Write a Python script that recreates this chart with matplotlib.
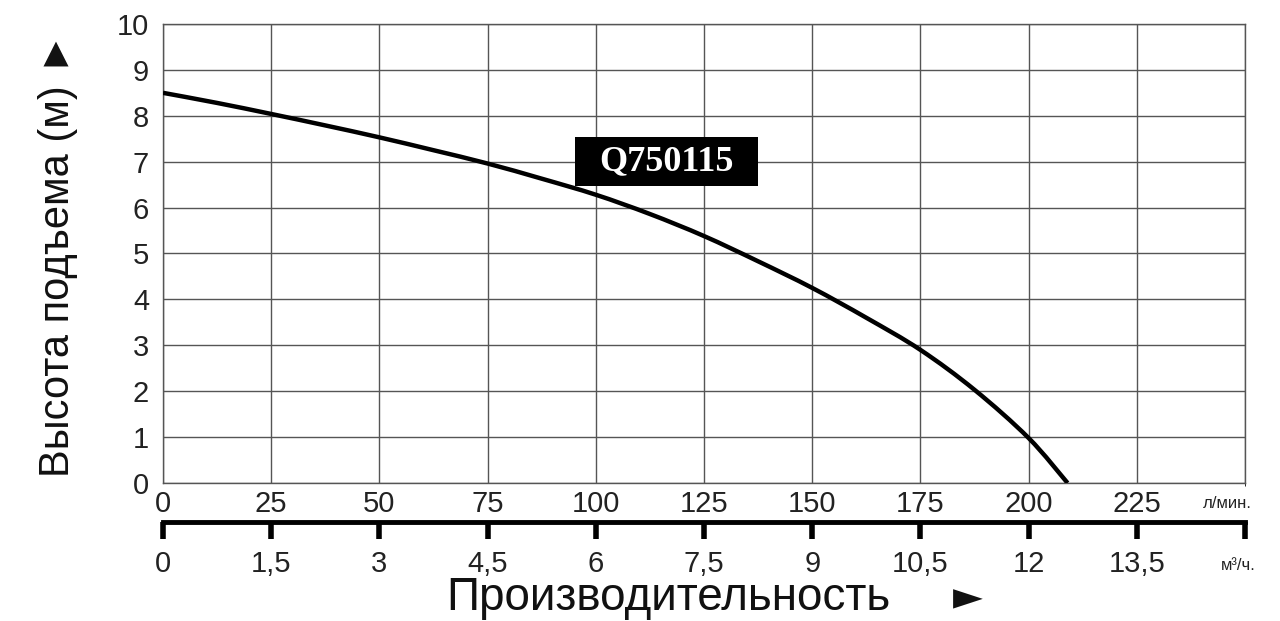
import numpy as np
import matplotlib.pyplot as plt
from matplotlib.path import Path
from matplotlib.patches import PathPatch, Rectangle

# flow, l/min -> head, m
flow_lpm = [0, 12.5, 25, 37.5, 50, 62.5, 75, 87.5, 100, 112.5, 125,
            137.5, 150, 162.5, 175, 187.5, 200, 209]
head_m = [8.5, 8.28, 8.04, 7.79, 7.53, 7.25, 6.96, 6.63, 6.28, 5.86, 5.38,
          4.83, 4.25, 3.6, 2.9, 2.03, 0.98, 0.0]

lpm_ticks = [0, 25, 50, 75, 100, 125, 150, 175, 200, 225]
m3h_ticks = [0, 1.5, 3, 4.5, 6, 7.5, 9, 10.5, 12, 13.5, 15]
m3h_labels = ['0', '1,5', '3', '4,5', '6', '7,5', '9', '10,5', '12', '13,5', '']
head_ticks = list(range(0, 11))
model = 'Q750115'

plt.rcParams['font.family'] = ['Liberation Sans', 'DejaVu Sans']

fig = plt.figure(figsize=(12.8, 6.21), dpi=100)
ax = fig.add_axes([0.1273, 0.2222, 0.8454, 0.7392])


def smooth_path(xs, ys):
    # catmull-rom through the read points, drawn as bezier segments
    p = np.column_stack([xs, ys]).astype(float)
    ext = np.vstack([p[0], p, p[-1]])
    verts = [p[0]]
    codes = [Path.MOVETO]
    for i in range(len(p) - 1):
        p0, p1, p2, p3 = ext[i], ext[i + 1], ext[i + 2], ext[i + 3]
        verts += [p1 + (p2 - p0) / 6, p2 - (p3 - p1) / 6, p2]
        codes += [Path.CURVE4] * 3
    return Path(verts, codes)


ax.add_patch(PathPatch(smooth_path(flow_lpm, head_m), fill=False, edgecolor='black',
                       lw=3.2, capstyle='butt', zorder=3))

ax.set_xlim(0, 250)
ax.set_ylim(0, 10)
ax.set_xticks(lpm_ticks)
ax.set_yticks(head_ticks)
ax.set_xticks([250], minor=True)
ax.grid(True, which='both', color='#555555', lw=1.0)
ax.tick_params(axis='both', length=0, labelsize=21, colors='#222222')
ax.tick_params(axis='x', pad=5)
ax.tick_params(axis='y', pad=10)
for sp in ax.spines.values():
    sp.set_color('#555555')
    sp.set_linewidth(1.0)

# second scale in m3/h below the chart
sec = ax.secondary_xaxis(-0.085, functions=(lambda q: q * 0.06, lambda v: v / 0.06))
sec.set_xticks(m3h_ticks)
sec.set_xticklabels(m3h_labels)
sec.spines['bottom'].set_linewidth(3.5)
sec.spines['bottom'].set_color('black')
sec.tick_params(axis='x', direction='out', length=12, width=4, color='black',
                labelsize=21, pad=24, labelcolor='#222222')
for lab in sec.get_xticklabels():
    lab.set_verticalalignment('baseline')

ax.text(0.984, -0.045, 'л/мин.', transform=ax.transAxes, ha='center', va='center',
        fontsize=12, color='#222222')
ax.text(0.994, -0.18, 'м³/ч.', transform=ax.transAxes, ha='center', va='center',
        fontsize=12, color='#222222')

ax.add_patch(Rectangle((95.3, 6.47), 42.1, 1.07, facecolor='black', edgecolor='none', zorder=4))
ax.text(116.3, 7.0, model, ha='center', va='center', fontsize=26, fontweight='bold',
        family='Liberation Serif', color='white', zorder=5)

fig.text(0.045, 0.59, 'Высота подъема (м) ►', rotation=90, ha='center', va='center',
         fontsize=30, color='#111111')
fig.text(0.522, 0.037, 'Производительность', ha='center', va='center',
         fontsize=33, color='#111111')
fig.text(0.756, 0.037, '►', ha='center', va='center', fontsize=28,
         family='DejaVu Sans', color='#111111')

fig.savefig('out.png', dpi=100)
